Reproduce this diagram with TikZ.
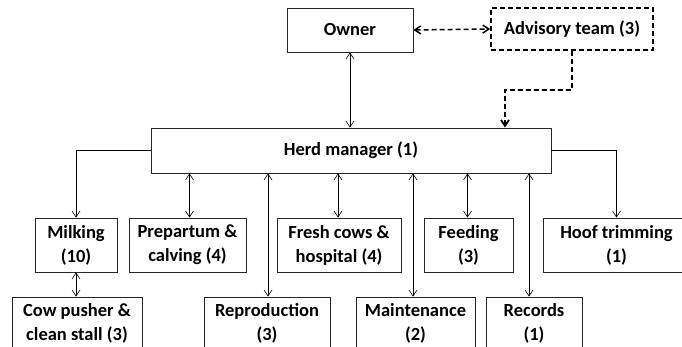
\documentclass[tikz,border=0pt]{standalone}
\usepackage{fontspec}
\setmainfont{Carlito}
\usetikzlibrary{arrows.meta,positioning}

\begin{document}
\begin{tikzpicture}[
    x = 1pt, y = -1pt, % pixel like units, y grows downwards
    > = {Straight Barb[length=6pt,width=8pt]}, % arrow head style
    semithick % line style
    ]

    \tikzset{box/.style={
    draw = black!85,
    line width = 0.9pt,
    align = center,
    inner sep = 0pt,
    font = \fontsize{18.5}{24}\selectfont\bfseries
    }}
    \tikzset{advice/.style={
    draw = black,
    line width = 1.8pt,
    dash pattern = on 5pt off 3pt
    }}

    \useasboundingbox (0,0) rectangle (682,347);
    \clip (0,0) rectangle (682,347);

    % top level
    \node[box, minimum width=126pt, minimum height=44pt] (owner) at (350,30) {Owner};
    \node[box, advice, minimum width=162pt, minimum height=42pt] (advisory) at (572,29) {Advisory team (3)};
    \node[box, minimum width=400pt, minimum height=45pt] (herd) at (351,150.5) {Herd manager (1)};

    % first row of tasks
    \node[box, minimum width=82pt, minimum height=54pt] (milking) at (76,245) {Milking\\(10)};
    \node[box, minimum width=117pt, minimum height=54pt] (prepartum) at (187.5,245) {Prepartum \&\\calving (4)};
    \node[box, minimum width=124pt, minimum height=54pt] (fresh) at (339,245) {Fresh cows \&\\hospital (4)};
    \node[box, minimum width=89pt, minimum height=54pt] (feeding) at (468.5,245) {Feeding\\(3)};
    \node[box, minimum width=147pt, minimum height=54pt] (hoof) at (616.5,245) {Hoof trimming\\(1)};

    % second row of tasks
    \node[box, minimum width=130pt, minimum height=53pt] (pusher) at (77,323.5) {Cow pusher \&\\clean stall (3)};
    \node[box, minimum width=126pt, minimum height=53pt] (reproduction) at (267,323.5) {Reproduction\\(3)};
    \node[box, minimum width=119pt, minimum height=53pt] (maintenance) at (415.5,323.5) {Maintenance\\(2)};
    \node[box, minimum width=96pt, minimum height=53pt] (records) at (534,323.5) {Records\\(1)};

    % owner and advisors
    \draw[<->, advice, line width=1.5pt] (owner.east) -- (advisory.west);
    \draw[->, advice] (advisory.south) -- ++(0,39) -| ([xshift=154pt]herd.north);
    \draw[<->] (owner.south) -- (owner.south |- herd.north);

    % herd manager to tasks
    \draw[->] (herd.west) -| (milking.north);
    \draw[->] (herd.east) -| (hoof.north);
    \draw[<->] ([xshift=2pt]prepartum.north) -- ([xshift=2pt]prepartum.north |- herd.south);
    \draw[<->] ([xshift=-1pt]fresh.north) -- ([xshift=-1pt]fresh.north |- herd.south);
    \draw[<->] ([xshift=-1pt]feeding.north) -- ([xshift=-1pt]feeding.north |- herd.south);
    \draw[<->] ([xshift=1pt]reproduction.north) -- ([xshift=1pt]reproduction.north |- herd.south);
    \draw[<->] ([xshift=-2.5pt]maintenance.north) -- ([xshift=-2.5pt]maintenance.north |- herd.south);
    \draw[<->] ([xshift=-5pt]records.north) -- ([xshift=-5pt]records.north |- herd.south);
    \draw[<->] (milking.south) -- (milking.south |- pusher.north);
\end{tikzpicture}
\end{document}
